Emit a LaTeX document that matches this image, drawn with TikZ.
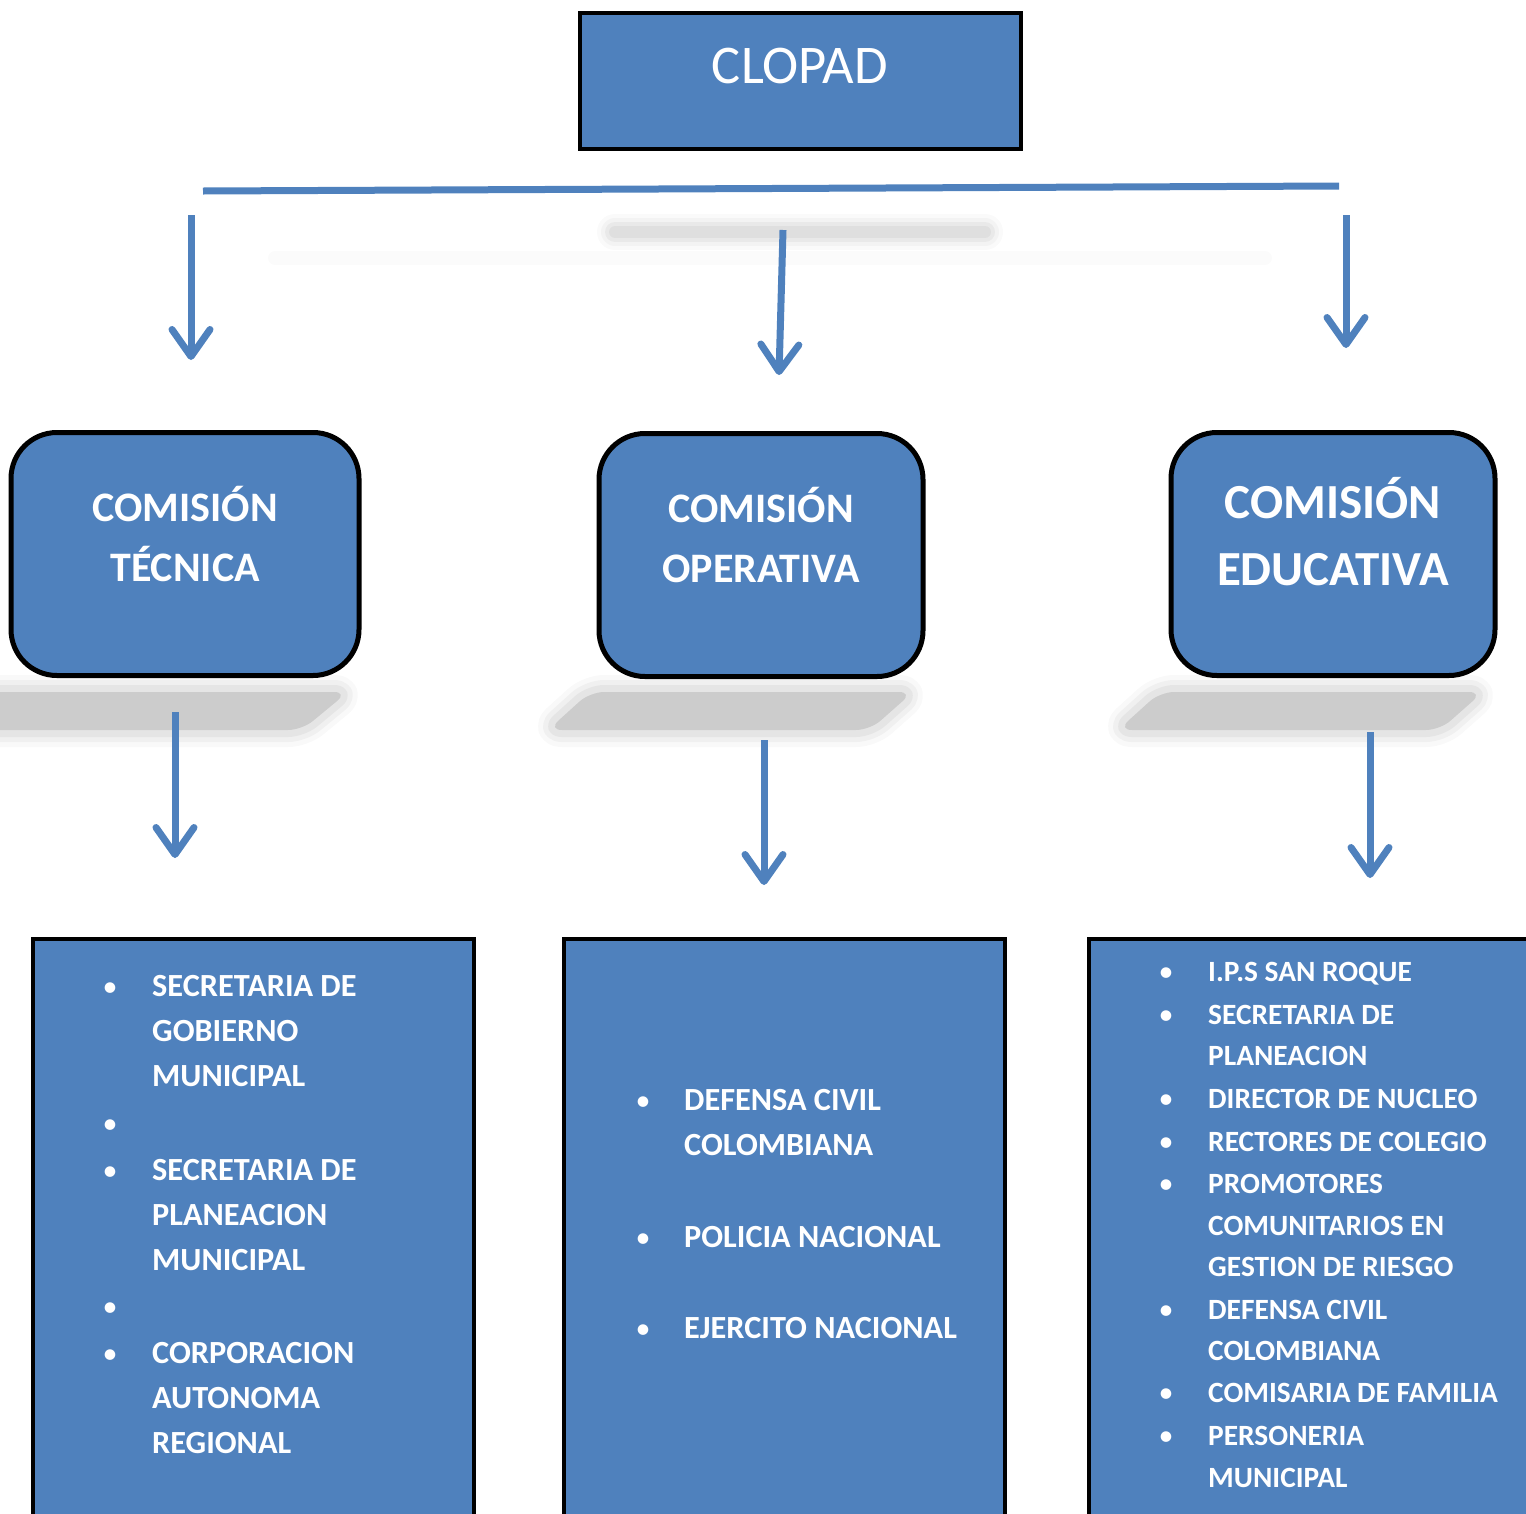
\documentclass[tikz,border=0pt]{standalone}
\usepackage{fontspec}
\setmainfont{Carlito}
\usetikzlibrary{arrows.meta,positioning}
\definecolor{clopadblue}{HTML}{4F81BD}
\definecolor{shadowgray}{HTML}{CCCCCC}

\begin{document}
\begin{tikzpicture}[x=1pt, y=-1pt,
    every node/.style={text=white},
    topbox/.style={draw=black, line width=4pt, fill=clopadblue, inner sep=0pt,
                   minimum width=441pt, minimum height=136pt},
    combox/.style={draw=black, line width=5pt, fill=clopadblue, inner sep=0pt,
                   rounded corners=46pt, minimum height=243pt},
    listbox/.style={draw=black, line width=4pt, fill=clopadblue},
    comtext/.style={align=center, font=\bfseries\fontsize{42}{60}\selectfont},
    listitem/.style={anchor=base west, inner sep=0pt, font=\bfseries\fontsize{32.3}{40}\selectfont},
    listitemC/.style={listitem, font=\bfseries\fontsize{29.4}{40}\selectfont},
    bulletdot/.style={anchor=base, inner sep=0pt, font=\fontsize{30}{30}\selectfont},
    blueline/.style={draw=clopadblue, line width=7pt},
    downarrow/.style={blueline, -{Straight Barb[length=27pt,width=38pt,round]}},
    blurline/.style={shadowgray, line join=round, rounded corners=14pt}]
    %\draw[help lines] (0,0) grid[step=100pt] (1526,1513);
    \useasboundingbox (0,0) rectangle (1526,1513);

   % shadows
   \foreach \a/\b/\c/\d in {-40/348/302/-80, 590/913/870/548, 1160/1483/1440/1118} {
     \foreach \w/\o in {34/0.12, 24/0.2, 14/0.3}
       \draw[blurline, line width=\w pt, opacity=\o]
         (\a,692) -- (\b,692) -- (\c,730) -- (\d,730) -- cycle;
     \fill[blurline] (\a,692) -- (\b,692) -- (\c,730) -- (\d,730) -- cycle;
   }
   \draw[gray!3, line width=14pt, line cap=round] (275,258) -- (1265,258);
   \foreach \w/\o in {36/0.1, 28/0.15, 20/0.25, 12/0.35}
     \draw[shadowgray, line width=\w pt, opacity=\o, line cap=round] (615,232) -- (985,232);

   % boxes
   \node[topbox]          (clopad)  at (800,81)  {};
   \node[combox, minimum width=348pt] (tecnica)   at (185,554) {};
   \node[combox, minimum width=324pt] (operativa) at (761,555) {};
   \node[combox, minimum width=324pt] (educativa) at (1333,554) {};
   \draw[listbox] (33,939) rectangle (474,1530);
   \draw[listbox] (564,939) rectangle (1005,1530);
   \draw[listbox] (1089,939) rectangle (1540,1530);

   % titles
   \node (clopadtxt) at (800,66) {\fontsize{54.5}{60}\selectfont CLOPAD};
   \node[comtext] (tectxt) at (185,534) {COMISIÓN\\TÉCNICA};
   \node[comtext] (opetxt) at (761,535) {COMISIÓN\\OPERATIVA};
   \node[comtext, font=\bfseries\fontsize{49}{67}\selectfont] (edutxt) at (1333,532) {COMISIÓN\\EDUCATIVA};

   % connectors
   \coordinate (barL) at (203,191);
   \coordinate (barR) at (1339,186);
   \draw[blueline] (barL) -- (barR);
   \coordinate (a1s) at (191,215);   \coordinate (a1e) at (191,360);
   \coordinate (a2s) at (783,230);   \coordinate (a2e) at (779,375);
   \coordinate (a3s) at (1346,215);  \coordinate (a3e) at (1346,348);
   \coordinate (b1s) at (175,712);   \coordinate (b1e) at (175,858);
   \coordinate (b2s) at (764,740);   \coordinate (b2e) at (764,885);
   \coordinate (b3s) at (1370,732);  \coordinate (b3e) at (1370,878);
   \draw[downarrow] (a1s) -- (a1e);
   \draw[downarrow] (a2s) -- (a2e);
   \draw[downarrow] (a3s) -- (a3e);
   \draw[downarrow] (b1s) -- (b1e);
   \draw[downarrow] (b2s) -- (b2e);
   \draw[downarrow] (b3s) -- (b3e);

   % lists
   \foreach \txt/\yy [count=\i] in {SECRETARIA DE/986, GOBIERNO/1031, MUNICIPAL/1076,
        SECRETARIA DE/1170, PLANEACION/1215, MUNICIPAL/1260,
        CORPORACION/1353, AUTONOMA/1398, REGIONAL/1443}
     \node[listitem] (tec\i) at (152,\yy+10) {\txt};
   \foreach \yy [count=\i] in {986,1123,1170,1306,1353}
     \node[bulletdot] (tecdot\i) at (110,\yy+10) {\textbullet};

   \foreach \txt/\yy [count=\i] in {DEFENSA CIVIL/1100, COLOMBIANA/1145,
        POLICIA NACIONAL/1237, EJERCITO NACIONAL/1328}
     \node[listitem] (ope\i) at (684,\yy+10) {\txt};
   \foreach \yy [count=\i] in {1100,1237,1328}
     \node[bulletdot] (opedot\i) at (643,\yy+10) {\textbullet};

   \foreach \txt/\yy [count=\i] in {I.P.S SAN ROQUE/972, SECRETARIA DE/1015,
        PLANEACION/1056, DIRECTOR DE NUCLEO/1099, RECTORES DE COLEGIO/1142,
        PROMOTORES/1184, COMUNITARIOS EN/1226, GESTION DE RIESGO/1267,
        DEFENSA CIVIL/1310, COLOMBIANA/1351, COMISARIA DE FAMILIA/1393,
        PERSONERIA/1436, MUNICIPAL/1478}
     \node[listitemC] (edu\i) at (1208,\yy+9) {\txt};
   \foreach \yy [count=\i] in {972,1015,1099,1142,1184,1310,1393,1436}
     \node[bulletdot] (edudot\i) at (1166,\yy+9) {\textbullet};

\end{tikzpicture}
\end{document}
